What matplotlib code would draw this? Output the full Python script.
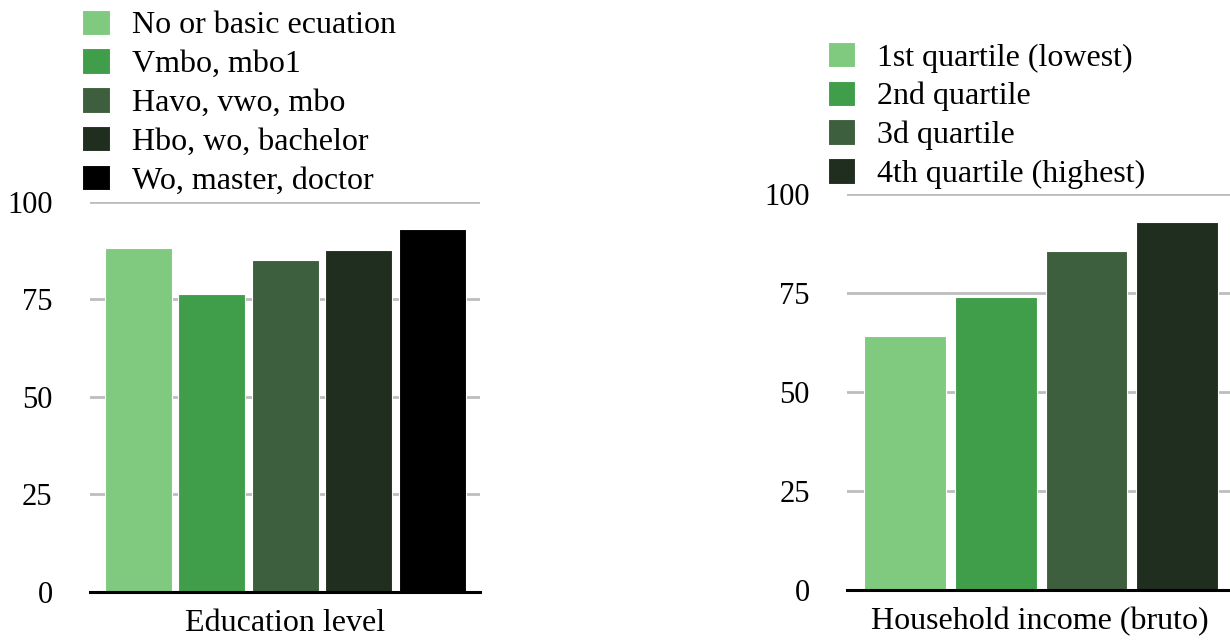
import numpy as np
import matplotlib.pyplot as plt

plt.rcParams['font.family'] = ['Liberation Serif', 'DejaVu Serif']

edu_labels = ['No or basic ecuation', 'Vmbo, mbo1', 'Havo, vwo, mbo',
              'Hbo, wo, bachelor', 'Wo, master, doctor']
edu_values = [88.2, 76.4, 85.1, 87.7, 93.0]
edu_colors = ['#80ca80', '#409d4a', '#3d5f3d', '#1f2e1f', '#000000']

inc_labels = ['1st quartile (lowest)', '2nd quartile', '3d quartile',
              '4th quartile (highest)']
inc_values = [64.1, 74.0, 85.5, 92.9]
inc_colors = ['#80ca80', '#409d4a', '#3d5f3d', '#1f2e1f']

yticks = [0, 25, 50, 75, 100]

fig = plt.figure(figsize=(12.3, 6.43), dpi=100)
ax1 = fig.add_axes([0.0732, 0.0793, 0.317, 0.607])
ax2 = fig.add_axes([0.689, 0.0824, 0.312, 0.616])


def draw_panel(ax, labels, values, colors, xlabel, width, xlim):
    x = np.arange(len(values))
    bars = ax.bar(x, values, width=width, color=colors, zorder=2,
                  edgecolor='white', linewidth=0.8)
    ax.set_ylim(0, 100)
    ax.set_xlim(*xlim)
    ax.set_yticks(yticks)
    ax.set_xticks([])
    ax.yaxis.grid(True, color='#bdbdbd', linewidth=2, zorder=0)
    ax.set_axisbelow(True)
    for s in ['top', 'right', 'left']:
        ax.spines[s].set_visible(False)
    ax.spines['bottom'].set_linewidth(2.2)
    ax.spines['bottom'].set_zorder(3)
    ax.tick_params(axis='y', length=0, labelsize=22, pad=27)
    ax.set_xlabel(xlabel, fontsize=23, labelpad=12)
    return bars


b1 = draw_panel(ax1, edu_labels, edu_values, edu_colors, 'Education level',
                0.913, (-0.66, 4.65))
b2 = draw_panel(ax2, inc_labels, inc_values, inc_colors, 'Household income (bruto)',
                0.904, (-0.64, 3.6))

leg_kw = dict(frameon=False, fontsize=23, handlelength=0.85, handleheight=0.85,
              handletextpad=0.7, labelspacing=0.25, borderpad=0, borderaxespad=0)
fig.legend(b1, edu_labels, loc='upper left', bbox_to_anchor=(0.067, 0.985), **leg_kw)
fig.legend(b2, inc_labels, loc='upper left', bbox_to_anchor=(0.673, 0.935), **leg_kw)

fig.savefig('out.png', dpi=100)
